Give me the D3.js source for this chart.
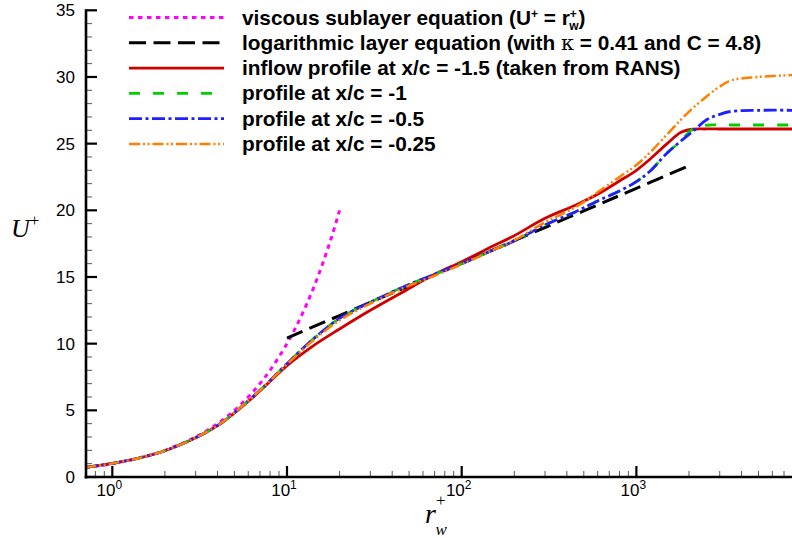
<!DOCTYPE html>
<html>
<head>
<meta charset="utf-8">
<script src="https://cdn.jsdelivr.net/npm/d3@7/dist/d3.min.js"></script>
<style>
html,body{margin:0;padding:0;background:#fff;}
svg{display:block;}
</style>
</head>
<body>
<svg id="chart" width="792" height="538"></svg>
<script>
// ---------- data ----------
const rViscous = [0.7, 1, 1.5, 2, 3, 4, 5, 6, 7, 8, 10, 12, 14, 16, 18, 20];
const uViscous = [0.7, 1, 1.5, 2, 3, 4, 5, 6, 7, 8, 10, 12, 14, 16, 18, 20];

const rLog = [10, 20, 50, 100, 200, 500, 1000, 2000];
const uLog = [10.42, 12.11, 14.34, 16.03, 17.72, 19.96, 21.65, 23.34];

const rProfile = [0.7, 1, 1.5, 2, 3, 4, 5, 7, 10, 14, 20, 30, 45, 70, 100, 150, 200, 300, 450, 600, 800, 1000, 1200, 1500, 1800, 2100, 2500, 3000, 3500, 5000, 8000];
const uInflow  = [0.72, 1.02, 1.5, 1.97, 2.95, 3.85, 4.8, 6.45, 8.35, 9.8, 11.1, 12.5, 13.8, 15.2, 16.15, 17.3, 18.1, 19.4, 20.4, 21.2, 22.2, 23.0, 23.85, 25.0, 25.85, 26.08, 26.1, 26.1, 26.1, 26.1, 26.1];
const uM1      = [0.72, 1.02, 1.5, 1.97, 2.95, 3.85, 4.82, 6.5, 8.5, 10.3, 11.9, 13.1, 14.18, 15.2, 16.0, 17.0, 17.7, 18.9, 19.9, 20.7, 21.45, 22.15, 22.95, 24.3, 25.2, 26.1, 26.38, 26.4, 26.4, 26.4, 26.4];
const uM05     = [0.72, 1.02, 1.5, 1.97, 2.95, 3.85, 4.82, 6.5, 8.5, 10.3, 11.9, 13.1, 14.18, 15.2, 16.0, 17.0, 17.7, 18.9, 19.9, 20.7, 21.45, 22.15, 22.95, 24.3, 25.2, 25.9, 26.75, 27.2, 27.42, 27.5, 27.5];
const uM025    = [0.72, 1.02, 1.5, 1.97, 2.95, 3.85, 4.82, 6.5, 8.45, 10.2, 11.75, 13.0, 14.1, 15.1, 15.95, 17.0, 17.75, 19.1, 20.25, 21.35, 22.5, 23.4, 24.35, 25.7, 26.8, 27.65, 28.5, 29.28, 29.75, 30.0, 30.15];

const yTicks = [0, 5, 10, 15, 20, 25, 30, 35];
const xTickExps = [0, 1, 2, 3];

const legendLabels = [
  "viscous sublayer equation",
  "logarithmic layer equation",
  "inflow profile at x/c = -1.5 (taken from RANS)",
  "profile at x/c = -1",
  "profile at x/c = -0.5",
  "profile at x/c = -0.25"
];

// ---------- setup ----------
const svg = d3.select("#chart");
const L = 86, R = 792, T = 10.3, B = 477;
const x = d3.scaleLog().domain([0.707, 7776]).range([L, R]);
const y = d3.scaleLinear().domain([0, 35]).range([B, T]);

svg.append("defs").append("clipPath").attr("id", "clip")
  .append("rect").attr("x", L).attr("y", T - 2).attr("width", R - L).attr("height", B - T + 2);

const series = [
  {r: rViscous, u: uViscous, color: "#ff00ff", width: 3, dash: "4.5,4.5"},
  {r: rLog, u: uLog, color: "#000000", width: 3, dash: "17,7.5"},
  {r: rProfile, u: uInflow, color: "#d00000", width: 2.8, dash: null},
  {r: rProfile, u: uM1, color: "#00d000", width: 2.8, dash: "11,13"},
  {r: rProfile, u: uM05, color: "#2020ff", width: 2.8, dash: "13,3.5,3,3.5"},
  {r: rProfile, u: uM025, color: "#ff8000", width: 2.5, dash: "11,3,2,2.5,2,3"}
];

const line = d3.line().x(d => x(d[0])).y(d => y(d[1])).curve(d3.curveCatmullRom.alpha(0.5));
const g = svg.append("g").attr("clip-path", "url(#clip)");
series.forEach(s => {
  const pts = s.r.map((r, i) => [r, s.u[i]]);
  g.append("path").attr("d", line(pts))
    .attr("fill", "none").attr("stroke", s.color).attr("stroke-width", s.width)
    .attr("stroke-dasharray", s.dash).attr("stroke-linejoin", "round");
});

// ---------- axes ----------
const yAxisG = svg.append("g");
d3.range(0, 36, 1).forEach(v => {
  if (v % 5 !== 0) yAxisG.append("line").attr("x1", L).attr("x2", L + 6)
    .attr("y1", y(v)).attr("y2", y(v)).attr("stroke", "#555").attr("stroke-width", 1);
});
yTicks.forEach(v => {
  yAxisG.append("line").attr("x1", L).attr("x2", L + 11)
    .attr("y1", y(v)).attr("y2", y(v)).attr("stroke", "#000").attr("stroke-width", 2.2);
  yAxisG.append("text").attr("x", 75).attr("y", y(v)).attr("dy", "0.36em")
    .attr("text-anchor", "end").attr("font-family", "Liberation Sans, Arial, sans-serif")
    .attr("font-size", 17).text(v);
});

const xAxisG = svg.append("g");
xTickExps.concat([-1, 4]).forEach(e => {
  for (let k = 2; k <= 9; k++) {
    const v = k * Math.pow(10, e);
    if (v < x.domain()[0] || v > x.domain()[1]) continue;
    xAxisG.append("line").attr("x1", x(v)).attr("x2", x(v))
      .attr("y1", B).attr("y2", B - 6).attr("stroke", "#555").attr("stroke-width", 1);
  }
});
xTickExps.forEach(e => {
  const v = Math.pow(10, e);
  xAxisG.append("line").attr("x1", x(v)).attr("x2", x(v))
    .attr("y1", B).attr("y2", B - 11).attr("stroke", "#000").attr("stroke-width", 2.2);
  const t = xAxisG.append("text").attr("x", x(v) - 3).attr("y", 496)
    .attr("text-anchor", "middle").attr("font-family", "Liberation Sans, Arial, sans-serif")
    .attr("font-size", 17);
  t.append("tspan").text("10");
  t.append("tspan").attr("dy", -7).attr("font-size", 12).text(e);
});

svg.append("line").attr("x1", L).attr("x2", L).attr("y1", T - 1).attr("y2", B + 1.5)
  .attr("stroke", "#000").attr("stroke-width", 2.6);
svg.append("line").attr("x1", L - 1.3).attr("x2", R).attr("y1", B).attr("y2", B)
  .attr("stroke", "#000").attr("stroke-width", 2.6);

// axis titles
const yt = svg.append("text").attr("x", 11).attr("y", 237)
  .attr("font-family", "Liberation Serif, Times New Roman, serif").attr("font-style", "italic")
  .attr("font-size", 26);
yt.append("tspan").text("U");
yt.append("tspan").attr("dy", -11).attr("font-size", 17).attr("font-style", "normal").text("+");

const xt = svg.append("text").attr("x", 425).attr("y", 523)
  .attr("font-family", "Liberation Serif, Times New Roman, serif").attr("font-style", "italic")
  .attr("font-size", 28);
xt.append("tspan").text("r");
xt.append("tspan").attr("dy", -17).attr("font-size", 17).attr("font-style", "normal").text("+");
xt.append("tspan").attr("dx", -10).attr("dy", 29).attr("font-size", 17).text("w");

// ---------- legend ----------
const lg = svg.append("g");
const rowY = i => 17.5 + i * 25.3;
series.forEach((s, i) => {
  lg.append("line").attr("x1", 129).attr("x2", 224).attr("y1", rowY(i)).attr("y2", rowY(i))
    .attr("stroke", s.color).attr("stroke-width", s.width).attr("stroke-dasharray", s.dash);
  const t = lg.append("text").attr("x", 242).attr("y", rowY(i) + 7)
    .attr("font-family", "Liberation Sans, Arial, sans-serif").attr("font-weight", "bold")
    .attr("font-size", 20.8).text(legendLabels[i]);
  if (i === 0) {
    t.append("tspan").text(" (U");
    t.append("tspan").attr("dy", -7).attr("font-size", 12).text("+");
    t.append("tspan").attr("dy", 7).text(" = r");
    t.append("tspan").attr("dy", -7).attr("font-size", 12).text("+");
    t.append("tspan").attr("dx", -7.5).attr("dy", 12).attr("font-size", 12).text("w");
    t.append("tspan").attr("dy", -5).text(")");
  } else if (i === 1) {
    t.append("tspan").text(" (with ");
    t.append("tspan").attr("font-weight", "normal").attr("font-family", "DejaVu Serif, serif").text("\u03ba");
    t.append("tspan").text(" = 0.41 and C = 4.8)");
  }
});
</script>
</body>
</html>
